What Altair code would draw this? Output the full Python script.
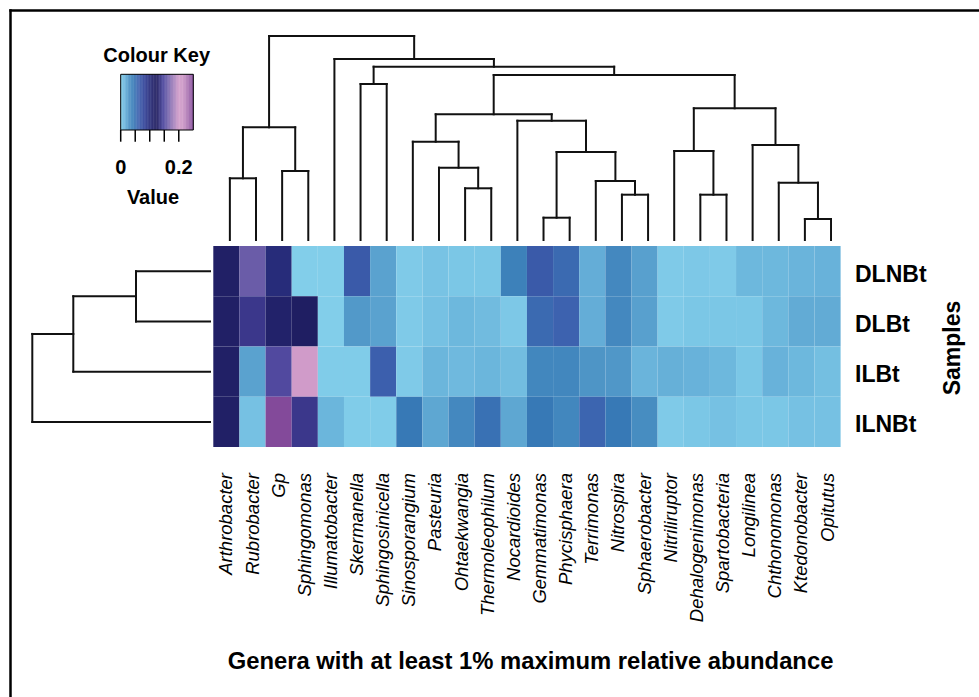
import altair as alt
import numpy as np
import pandas as pd

# Genera (columns, in dendrogram order) and samples (rows, in dendrogram order)
genera = [
    "Arthrobacter", "Rubrobacter", "Gp", "Sphingomonas", "Illumatobacter",
    "Skermanella", "Sphingosinicella", "Sinosporangium", "Pasteuria",
    "Ohtaekwangia", "Thermoleophilum", "Nocardioides", "Gemmatimonas",
    "Phycisphaera", "Terrimonas", "Nitrospira", "Sphaerobacter",
    "Nitriliruptor", "Dehalogenimonas", "Spartobacteria", "Longilinea",
    "Chthonomonas", "Ktedonobacter", "Opitutus",
]
samples = ["DLNBt", "DLBt", "ILBt", "ILNBt"]

# Relative abundance of each genus per sample
abund_DLNBt = [0.115, 0.160, 0.100, 0.000, 0.000, 0.065, 0.022, 0.002, 0.006, 0.004, 0.004, 0.040,
               0.065, 0.055, 0.017, 0.035, 0.023, 0.002, 0.003, 0.002, 0.012, 0.012, 0.014, 0.015]
abund_DLBt = [0.115, 0.140, 0.110, 0.120, 0.000, 0.026, 0.022, 0.002, 0.007, 0.012, 0.010, 0.003,
              0.055, 0.060, 0.017, 0.035, 0.023, 0.002, 0.004, 0.004, 0.004, 0.012, 0.018, 0.018]
abund_ILBt = [0.115, 0.022, 0.150, 0.200, 0.001, 0.001, 0.062, 0.002, 0.013, 0.011, 0.013, 0.009,
              0.036, 0.036, 0.028, 0.027, 0.014, 0.016, 0.015, 0.012, 0.004, 0.015, 0.012, 0.008]
abund_ILNBt = [0.115, 0.007, 0.250, 0.140, 0.013, 0.001, 0.001, 0.045, 0.020, 0.035, 0.050, 0.020,
               0.045, 0.036, 0.058, 0.045, 0.032, 0.002, 0.004, 0.007, 0.004, 0.004, 0.007, 0.007]
abundance = [abund_DLNBt, abund_DLBt, abund_ILBt, abund_ILNBt]

# Hierarchical clustering of genera: (child a, child b, height); leaves 0..23, nodes 24..
col_merges = [
    (0, 1, 0.617), (2, 3, 0.690), (24, 25, 1.127), (5, 6, 1.560),
    (9, 10, 0.517), (8, 28, 0.723), (7, 29, 0.983), (12, 13, 0.223),
    (15, 16, 0.453), (14, 32, 0.590), (31, 33, 0.880), (11, 34, 1.193),
    (30, 35, 1.257), (18, 19, 0.453), (17, 37, 0.890), (22, 23, 0.210),
    (21, 39, 0.573), (20, 40, 0.950), (38, 41, 1.317), (36, 42, 1.650),
    (27, 43, 1.733), (4, 44, 1.810), (26, 45, 2.040),
]
# Hierarchical clustering of samples; leaves 0..3, nodes 4..
row_merges = [(0, 1, 0.740), (4, 2, 1.367), (5, 3, 1.777)]

# Colour key
key_stops = [0.000, 0.015, 0.030, 0.045, 0.060, 0.085, 0.110, 0.125, 0.145, 0.160, 0.200, 0.215, 0.250]
key_colours = ["#82CEEA", "#68B2DA", "#4A90C3", "#3779B6", "#3D62AF", "#2E3C93", "#22226A",
               "#1E1C5E", "#45409A", "#6A5CA8", "#D09BC9", "#CC96C6", "#834A9A"]
key_ticks = [0.0, 0.05, 0.10, 0.15, 0.20]
key_labels = [0.0, 0.2]

FONT = "Liberation Sans"


def dendro_segments(merges, n_leaves):
    pos = {i: float(i) for i in range(n_leaves)}
    hgt = {i: 0.0 for i in range(n_leaves)}
    segs = []
    for k, (a, b, h) in enumerate(merges):
        for c in (a, b):
            segs.append({"p": pos[c], "p2": pos[c], "h": hgt[c], "h2": h})
        segs.append({"p": pos[a], "p2": pos[b], "h": h, "h2": h})
        pos[n_leaves + k] = (pos[a] + pos[b]) / 2
        hgt[n_leaves + k] = h
    return pd.DataFrame(segs)


cells = pd.DataFrame([
    {"genus": g, "sample": s, "value": v}
    for s, row in zip(samples, abundance)
    for g, v in zip(genera, row)
])

colour_scale = alt.Scale(domain=key_stops, range=key_colours, interpolate="rgb")
x_band = alt.Scale(domain=genera, range=[213.3, 840.6], paddingInner=0, paddingOuter=0)
y_band = alt.Scale(domain=samples, range=[246, 447], paddingInner=0, paddingOuter=0)

heat = alt.Chart(cells).mark_rect().encode(
    x=alt.X("genus:N", scale=x_band, axis=None),
    y=alt.Y("sample:N", scale=y_band, axis=None),
    color=alt.Color("value:Q", scale=colour_scale, legend=None),
)

col_labels = alt.Chart(pd.DataFrame({"genus": genera})).mark_text(
    angle=270, align="right", baseline="middle", fontStyle="italic",
    fontSize=18.5, font=FONT, color="black",
).encode(
    x=alt.X("genus:N", scale=x_band, axis=None),
    y=alt.value(473),
    text="genus:N",
)

row_labels = alt.Chart(pd.DataFrame({"sample": samples})).mark_text(
    align="left", baseline="middle", fontWeight="bold", fontSize=23, font=FONT,
    color="black", dy=3.5,
).encode(
    x=alt.value(855),
    y=alt.Y("sample:N", scale=y_band, axis=None),
    text="sample:N",
)

line_style = dict(strokeWidth=2, color="#111111", strokeCap="square")

col_dendro = alt.Chart(dendro_segments(col_merges, len(genera))).mark_rule(**line_style).encode(
    x=alt.X("p:Q", scale=alt.Scale(domain=[-0.5, 23.5], range=[216.8, 844.1], nice=False, zero=False), axis=None),
    x2="p2:Q",
    y=alt.Y("h:Q", scale=alt.Scale(domain=[0, 2.04], range=[240, 36], nice=False, zero=False), axis=None),
    y2="h2:Q",
)

row_dendro = alt.Chart(dendro_segments(row_merges, len(samples))).mark_rule(**line_style).encode(
    y=alt.Y("p:Q", scale=alt.Scale(domain=[-0.5, 3.5], range=[246, 447], nice=False, zero=False), axis=None),
    y2="p2:Q",
    x=alt.X("h:Q", scale=alt.Scale(domain=[0, 1.777], range=[210, 32.3], nice=False, zero=False), axis=None),
    x2="h2:Q",
)

# Colour key gradient
key_x = alt.Scale(domain=[0, 0.25], range=[120.7, 193.3], nice=False, zero=False)
grad = np.linspace(0, 0.25, 121)
key_df = pd.DataFrame({"v": grad[:-1], "v2": grad[1:] + 0.0008, "mid": (grad[:-1] + grad[1:]) / 2})

key_rects = alt.Chart(key_df).mark_rect().encode(
    x=alt.X("v:Q", scale=key_x, axis=None),
    x2="v2:Q",
    y=alt.value(74.3),
    y2=alt.value(130),
    color=alt.Color("mid:Q", scale=colour_scale, legend=None),
)

one = pd.DataFrame({"k": [0]})

key_box = alt.Chart(one).mark_rect(fillOpacity=0, stroke="black", strokeWidth=1).encode(
    x=alt.value(120.7), x2=alt.value(193.3), y=alt.value(74.3), y2=alt.value(130),
)

key_tick_marks = alt.Chart(pd.DataFrame({"t": key_ticks})).mark_rule(color="black", strokeWidth=1.5).encode(
    x=alt.X("t:Q", scale=key_x, axis=None),
    y=alt.value(130),
    y2=alt.value(141.7),
)

key_tick_labels = alt.Chart(pd.DataFrame({"t": key_labels, "lab": ["0", "0.2"]})).mark_text(
    fontWeight="bold", fontSize=20, font=FONT, baseline="middle", align="center", color="black",
).encode(
    x=alt.X("t:Q", scale=key_x, axis=None),
    y=alt.value(167.5),
    text="lab:N",
)


def label(text, x, y, size, angle=0):
    return alt.Chart(one).mark_text(
        text=text, fontWeight="bold", fontSize=size, font=FONT, angle=angle,
        align="center", baseline="middle", color="black",
    ).encode(x=alt.value(x), y=alt.value(y))


key_title = label("Colour Key", 156.7, 56, 20)
key_value = label("Value", 153, 197.5, 20)
samples_title = label("Samples", 953.3, 348, 23, angle=270)
genera_title = label("Genera with at least 1% maximum relative abundance", 530.5, 662, 23.8)

frame_top = alt.Chart(one).mark_rule(color="black", strokeWidth=2.5).encode(
    x=alt.value(9.3), x2=alt.value(990), y=alt.value(10.5),
)
frame_left = alt.Chart(one).mark_rule(color="black", strokeWidth=2.5).encode(
    x=alt.value(10.5), y=alt.value(9.3), y2=alt.value(710),
)

chart = alt.layer(
    heat, col_labels, row_labels, col_dendro, row_dendro,
    key_rects, key_box, key_tick_marks, key_tick_labels,
    key_title, key_value, samples_title, genera_title,
    frame_top, frame_left,
).resolve_scale(
    x="independent", y="independent", color="independent",
).properties(
    width=979, height=697, padding=0, autosize="none", background="white",
).configure_view(strokeWidth=0)

chart.save("out.html", embed_options={"renderer": "svg", "actions": False})
